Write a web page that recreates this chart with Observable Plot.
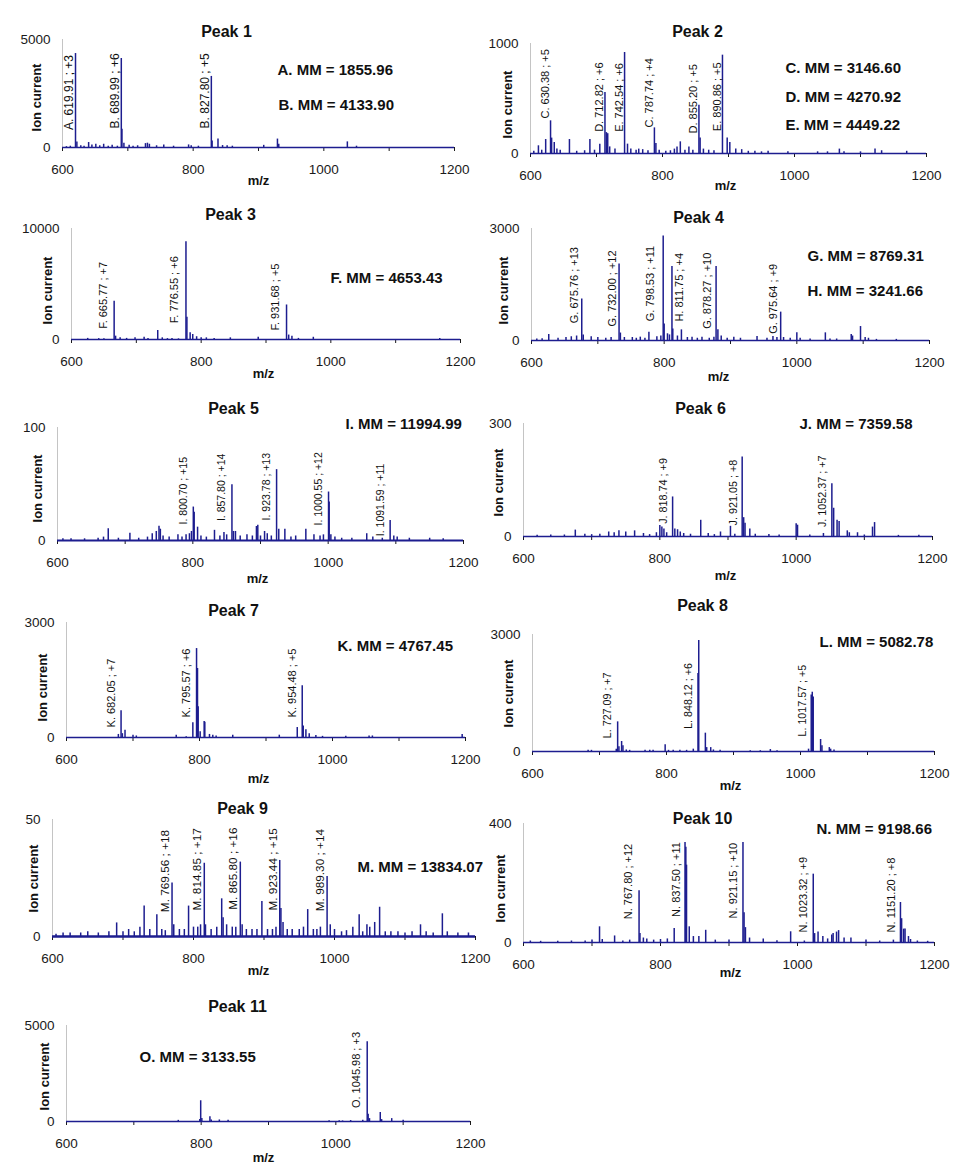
<!DOCTYPE html>
<html><head><meta charset="utf-8">
<script src="https://cdn.jsdelivr.net/npm/d3@7"></script>
<script src="https://cdn.jsdelivr.net/npm/@observablehq/plot@0.6"></script>
<style>
body{margin:0;background:#fff;}
#page{position:relative;width:960px;height:1173px;overflow:hidden;background:#fff;font-family:"Liberation Sans",Arial,sans-serif;}
#page svg{position:absolute;overflow:visible;}
</style></head><body><div id="page"></div>
<script>
// ---------- data ----------
const xTicks = [600, 700, 800, 900, 1000, 1100, 1200];
const xTickLabels = [600, 800, 1000, 1200];
const titles = ["Peak 1","Peak 2","Peak 3","Peak 4","Peak 5","Peak 6","Peak 7","Peak 8","Peak 9","Peak 10","Peak 11"];
const yMax = [5000, 1000, 10000, 3000, 100, 300, 3000, 3000, 50, 400, 5000];

// [m/z, ion current]
const peaks1 = [[606,40],[612,60],[619.91,4350],[622,250],[628,80],[633,60],[640,230],[645,120],[651,150],[657,80],[663,150],[670,60],[676,100],[684,60],[689.99,4120],[691,850],[694,200],[702,100],[708,60],[715,80],[727,180],[730,200],[733,150],[744,80],[755,120],[770,60],[793,120],[797,80],[808,60],[827.80,3290],[829,300],[838,390],[845,90],[852,80],[860,60],[908,100],[929,390],[931,150],[1036,260],[1050,60]];
const peaks2 = [[605,20],[612,70],[617,30],[623,127],[630.38,297],[632,140],[636,100],[640,40],[645,30],[659,127],[670,20],[682,25],[690,127],[697,30],[705,85],[712.82,555],[715,190],[717,180],[720,60],[728,40],[742.54,918],[747,85],[752,40],[760,30],[764,40],[770,35],[778,25],[787.74,233],[790,90],[795,30],[805,20],[812,25],[818,40],[822,60],[827,106],[834,30],[840,60],[846,30],[855.20,439],[857,140],[862,40],[870,30],[878,25],[890.86,894],[898,142],[902,100],[911,40],[920,35],[930,20],[940,20],[950,15],[960,20],[990,15],[1035,15],[1050,15],[1068,40],[1075,15],[1100,15],[1122,40],[1132,25],[1170,20]];
const peaks3 = [[625,100],[642,80],[650,60],[665.77,3440],[668,300],[675,150],[685,100],[698,150],[712,200],[718,100],[733,810],[740,150],[748,80],[755,100],[765,60],[776.55,8800],[778,2000],[783,600],[787,450],[793,250],[800,150],[808,150],[820,100],[845,150],[888,200],[931.68,3110],[935,400],[940,300],[950,100],[973,200],[1168,100]];
const peaks4 = [[608,40],[616,50],[626,160],[640,60],[652,80],[660,100],[668,120],[675.76,1110],[678,150],[690,100],[700,80],[712,60],[720,80],[732.00,2050],[734,200],[740,80],[752,80],[758,60],[764,90],[771,60],[777,220],[789,100],[795,120],[798.53,2800],[800,445],[805,180],[808,150],[811.75,1980],[813,310],[820,120],[826,285],[835,80],[842,90],[850,60],[857,90],[868,60],[875,90],[878.27,1980],[881,285],[886,120],[895,60],[905,90],[915,60],[940,110],[955,60],[964,110],[970,80],[975.64,760],[980,80],[990,60],[1000,205],[1005,60],[1020,40],[1043,205],[1050,40],[1060,40],[1082,160],[1084,120],[1096,374],[1103,80],[1108,60],[1120,30],[1150,30]];
const peaks5 = [[608,1.5],[620,1.5],[640,1.5],[660,2],[668,3],[675,10.4],[690,2],[707,6.5],[720,2],[733,3],[740,6],[746,8],[750,12.7],[752,10],[756,4],[765,3],[778,5],[784,3],[790,5],[795,6],[798,8],[800.70,29.6],[802,25],[807,11.8],[812,4],[820,3],[832,9],[840,4],[846,7],[850,5],[857.80,49.4],[860,8],[863,8],[870,4],[880,5],[888,4],[894,12.4],[896,13.5],[900,4],[906,8],[910,6],[916,4],[923.78,62.7],[927,10],[936,10],[945,3],[952,4],[967,10],[979,5],[988,4],[993,5],[1000.55,42.9],[1001.5,34],[1004,5],[1010,3],[1020,2],[1035,2],[1057,6],[1066,3],[1080,2],[1091.59,17.8],[1097,4],[1102,3],[1120,2],[1150,2],[1170,1.5]];
const peaks6 = [[620,3],[640,4],[660,4],[676,17],[690,6],[700,5],[712,6],[725,12],[733,10],[740,15],[750,12],[763,15],[776,8],[785,5],[795,10],[800,29],[803,25],[806,20],[810,10],[818.74,105],[822,20],[826,18],[830,12],[835,8],[845,6],[860,43],[871,8],[880,5],[889,12],[903.6,27],[910,6],[920.8,211],[923,50],[925,35],[932,20],[940,6],[960,5],[975,4],[1000,34],[1002,30],[1020,4],[1040,8],[1052.37,140],[1055,75],[1060,43],[1063,40],[1075,15],[1078,10],[1090,10],[1100,4],[1112,25],[1115,37],[1150,3],[1180,3]];
const peaks7 = [[678,80],[682.05,700],[684,100],[688,190],[700,60],[705,40],[765,60],[780,20],[790,385],[795.57,2320],[797,1800],[798,800],[801,150],[807,420],[808,400],[815,80],[820,60],[825,40],[850,60],[920,60],[947,260],[954.48,1350],[956,300],[960,200],[965,100],[975,50],[985,30],[1020,30],[1055,40],[1060,40],[1195,80]];
const peaks8 = [[683,30],[688,30],[725,60],[727.09,760],[729,120],[733,256],[735,150],[740,40],[745,30],[768,30],[775,30],[780,30],[798,170],[803,30],[810,30],[820,30],[830,30],[840,60],[847,2000],[848.12,2846],[858,470],[860,100],[866,100],[870,40],[880,30],[925,20],[940,20],[955,50],[965,20],[1012,60],[1016,1450],[1017.57,1520],[1019,1400],[1030,308],[1032,150],[1043,100],[1045,60],[1050,40]];
const peaks9 = [[605,1],[615,1.5],[625,1.5],[640,1.5],[650,2],[665,1.5],[680,2],[691,5.8],[700,2],[708,3],[716,2],[724,4],[730,13],[738,3],[748,9.3],[755,3],[760,2.5],[769.56,22.9],[772,5],[780,3],[787,3],[793,13],[800,4],[806,4],[810,5],[815.3,31.3],[817,5],[825,3],[833,4],[840,16.1],[842,8],[847,5],[855,4],[860,4],[866.4,31.8],[869,5],[875,3],[883,3],[890,3],[897,15],[905,3],[912,3],[917,4],[922.3,32.5],[924,12],[927,6],[933,3],[940,3],[950,3],[956,4],[962,11.5],[970,3],[975,3],[980,4],[989.5,25.6],[994,5],[1000,3],[1010,2],[1017,2.5],[1026,4],[1035,9.3],[1040,2],[1046,5],[1050,4],[1057,6],[1064,12.5],[1072,2],[1080,2],[1090,2],[1100,1.5],[1110,2],[1122,5],[1130,2],[1140,1.5],[1153,9.7],[1160,2],[1175,1.5],[1190,1.5]];
const peaks10 = [[610,5],[625,4],[650,4],[670,5],[690,5],[700,8],[711,52.7],[715,10],[733,22],[745,5],[755,8],[768.7,173.7],[770,30],[775,15],[780,12],[790,8],[800,10],[810,12],[820,47],[835.8,336],[837,320],[838,260],[842,52.7],[848,20],[856,20],[866,41],[880,8],[900,8],[920.4,336],[922,100],[924,50],[930,15],[950,12],[970,6],[990,36],[1010,5],[1023,229.7],[1025,30],[1030,35],[1037,20],[1044,12],[1050,25],[1052,30],[1057,35],[1060,40],[1068,15],[1078,15],[1100,8],[1120,5],[1140,8],[1150.3,134.5],[1152,80],[1155,45],[1157,45],[1162,20],[1165,10],[1175,5],[1190,4]];
const peaks11 = [[766,60],[798,100],[799.3,1080],[801,150],[813,244],[815,80],[827,80],[840,60],[990,40],[1005,40],[1010,30],[1022,50],[1040,60],[1046.6,4160],[1048,380],[1050,150],[1066,470],[1068,100],[1083,150],[1100,60]];

// [species, m/z, charge, ion current at label base]
const labels1 = [["A",619.91,3,807],["B",689.99,6,885],["B",827.80,5,885]];
const labels2 = [["C",630.38,5,318],["D",712.82,6,197],["E",742.54,6,197],["C",787.74,4,236],["D",855.20,5,182],["E",890.86,5,203]];
const labels3 = [["F",665.77,7,958],["F",776.55,6,1467],["F",931.68,5,808]];
const labels4 = [["G",675.76,13,463],["G",732.00,12,374],["G",798.53,11,516],["H",811.75,4,507],["G",878.27,10,312],["G",975.64,9,178]];
const labels5 = [["I",800.70,15,14.2],["I",857.80,14,17.2],["I",923.78,13,17.8],["I",1000.55,12,13.3],["I",1091.59,11,3.8]];
const labels6 = [["J",818.74,9,33.7],["J",921.05,8,29.3],["J",1052.37,7,24.9]];
const labels7 = [["K",682.05,7,262],["K",795.57,6,525],["K",954.48,5,525]];
const labels8 = [["L",727.09,7,342],["L",848.12,6,581],["L",1017.57,5,385]];
const labels9 = [["M",769.56,18,10.4],["M",814.85,17,11.1],["M",865.80,16,11.4],["M",923.44,15,11.1],["M",989.30,14,10.8]];
const labels10 = [["N",767.80,12,78],["N",837.50,11,86],["N",921.15,10,81],["N",1023.32,9,34],["N",1151.20,8,34]];
const labels11 = [["O",1045.98,3,697]];

// molecular masses
const mm1 = [["A",1855.96],["B",4133.90]];
const mm2 = [["C",3146.60],["D",4270.92],["E",4449.22]];
const mm3 = [["F",4653.43]];
const mm4 = [["G",8769.31],["H",3241.66]];
const mm5 = [["I",11994.99]];
const mm6 = [["J",7359.58]];
const mm7 = [["K",4767.45]];
const mm8 = [["L",5082.78]];
const mm9 = [["M",13834.07]];
const mm10 = [["N",9198.66]];
const mm11 = [["O",3133.55]];

const allPeaks = [peaks1,peaks2,peaks3,peaks4,peaks5,peaks6,peaks7,peaks8,peaks9,peaks10,peaks11];
const allLabels = [labels1,labels2,labels3,labels4,labels5,labels6,labels7,labels8,labels9,labels10,labels11];
const allMM = [mm1,mm2,mm3,mm4,mm5,mm6,mm7,mm8,mm9,mm10,mm11];

// ---------- layout (page pixels) ----------
const layout = [
  {col:0,   x0:62,  x1:454, yT:39,   yB:147,  title:[226,25],   ion:[31,97],    mz:[258,175],  mm:[[277,64],[278,99]], lf:12, ldx:-6},
  {col:480, x0:530, x1:926, yT:43,   yB:153,  title:[697,25],   ion:[502,104],  mz:[725,180],  mm:[[785,62],[785,91],[785,119]], lf:11, ldx:-5},
  {col:0,   x0:71,  x1:460, yT:228,  yB:339,  title:[230,208],  ion:[42,290],   mz:[263,368],  mm:[[330,272]], lf:11, ldx:-11},
  {col:480, x0:531, x1:929, yT:228,  yB:340,  title:[698,211],  ion:[498,290],  mz:[718,371],  mm:[[807,250],[807,285]], lf:11, ldx:-7, nudge:[0,0,-6,15,-2,0]},
  {col:0,   x0:57,  x1:463, yT:427,  yB:540,  title:[233,402],  ion:[32,488],   mz:[257,573],  mm:[[345,418]], lf:10.5, ldx:-10, bw:2},
  {col:480, x0:523, x1:932, yT:423,  yB:536,  title:[700,402],  ion:[493,482],  mz:[725,570],  mm:[[799,418]], lf:10.8, ldx:-9},
  {col:0,   x0:66,  x1:465, yT:622,  yB:737,  title:[233,604],  ion:[37,687],   mz:[258,773],  mm:[[337,640]], lf:11, ldx:-10},
  {col:480, x0:532, x1:934, yT:634,  yB:751,  title:[702,599],  ion:[503,693],  mz:[730,780],  mm:[[819,636]], lf:10.7, ldx:-10},
  {col:0,   x0:52,  x1:475, yT:819,  yB:936,  title:[242,802],  ion:[28,878],   mz:[258,965],  mm:[[357,861]], lf:11.8, ldx:-7, bw:2.5},
  {col:480, x0:523, x1:934, yT:823,  yB:942,  title:[702,812],  ion:[495,888],  mz:[730,967],  mm:[[816,823]], lf:11, ldx:-10},
  {col:0,   x0:66,  x1:470, yT:1025, yB:1121, title:[237,1000], ion:[39,1076],  mz:[263,1152], mm:[[139,1051]], lf:11, ldx:-10}
];

const BLUE = "#1d1d8f";
const FONT = "'Liberation Sans', Arial, sans-serif";
const page = document.getElementById("page");

layout.forEach((L, i) => {
  const mt = 50, mb = 45;
  const ml = L.x0 - L.col, mr = L.col + 480 - L.x1;
  const fw = L.x1 - L.x0, fh = L.yB - L.yT;
  const rel = ([x, y]) => ({dx: x - L.x0, dy: y - L.yT});
  const pk = allPeaks[i].map(([mz, h]) => ({mz, h}));
  const lb = allLabels[i].map(([s, mz, z, ly]) => ({mz, ly, text: `${s}. ${mz.toFixed(2)} ; +${z}`}));
  // one text mark per label so each can carry its own screen nudge
  const labelMarks = lb.map((d, j) => Plot.text([d], {
    x: "mz", y: "ly", text: "text", rotate: -90, textAnchor: "start",
    dx: L.ldx + (L.nudge ? L.nudge[j] : 0), fontSize: L.lf, fill: "#111"
  }));
  const mmMarks = allMM[i].map((m, j) => Plot.text([m], {
    text: d => `${d[0]}. MM = ${d[1].toFixed(2)}`,
    frameAnchor: "top-left", ...rel(L.mm[j]), textAnchor: "start",
    fontWeight: "bold", fontSize: 15, fill: "#111"
  }));
  const svg = Plot.plot({
    width: fw + ml + mr, height: fh + mt + mb,
    marginLeft: ml, marginRight: mr, marginTop: mt, marginBottom: mb,
    style: {fontFamily: FONT, fontSize: "13.5px", color: "#1a1a1a", background: "transparent", overflow: "visible"},
    x: {domain: [600, 1200], ticks: xTicks, tickFormat: d => xTickLabels.includes(d) ? String(d) : "", tickSize: 4, tickPadding: 13, label: null},
    y: {domain: [0, yMax[i]], ticks: [0, yMax[i]], tickFormat: d => String(d), tickSize: 0, tickPadding: 12, label: null},
    marks: [
      Plot.ruleX([600], {stroke: "#c4c4c4", strokeWidth: 1}),
      Plot.ruleY([0], {stroke: BLUE, strokeWidth: L.bw || 1.5}),
      Plot.ruleX(pk, {x: "mz", y1: 0, y2: "h", stroke: BLUE, strokeWidth: 1.5}),
      ...labelMarks,
      Plot.text([titles[i]], {text: d => d, frameAnchor: "top-left", ...rel(L.title), textAnchor: "middle", fontWeight: "bold", fontSize: 16, fill: "#111"}),
      Plot.text(["Ion current"], {text: d => d, frameAnchor: "top-left", ...rel(L.ion), rotate: -90, textAnchor: "middle", fontWeight: "bold", fontSize: 13, fill: "#111"}),
      Plot.text(["m/z"], {text: d => d, frameAnchor: "top-left", ...rel(L.mz), textAnchor: "middle", fontWeight: "bold", fontSize: 13, fill: "#111"}),
      ...mmMarks
    ]
  });
  svg.style.left = L.col + "px";
  svg.style.top = (L.yT - mt) + "px";
  page.appendChild(svg);
});
</script></body></html>
